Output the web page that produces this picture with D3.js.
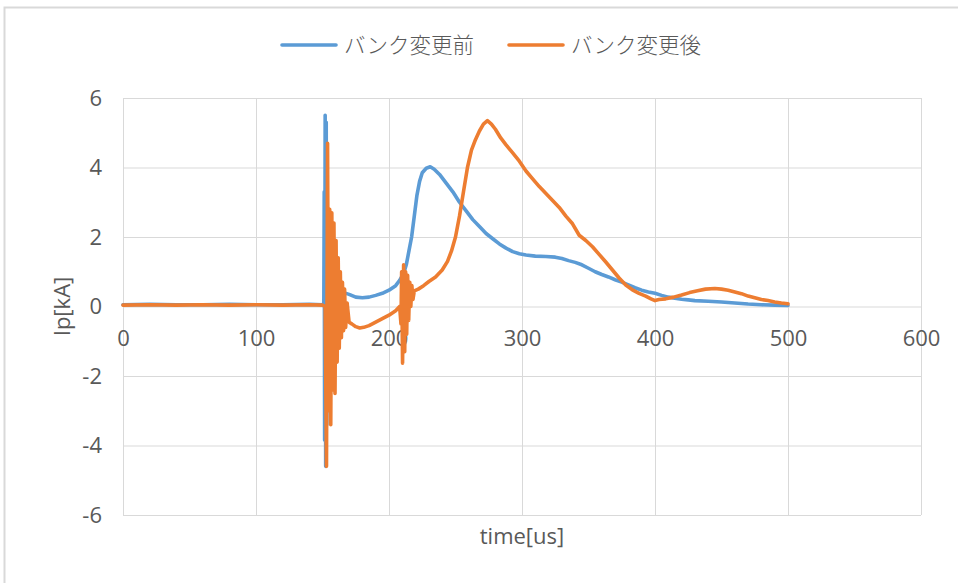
<!DOCTYPE html>
<html>
<head>
<meta charset="utf-8">
<script src="https://cdn.jsdelivr.net/npm/d3@7"></script>
<style>
  html, body { margin: 0; padding: 0; background: #fff; }
  svg { display: block; }
  text { font-family: "Open Sans", "Noto Sans CJK JP", sans-serif; fill: #595959; }
</style>
</head>
<body>
<svg id="chart" width="958" height="583"></svg>
<script>
// Peak current Ip [kA] against time [us], before and after the bank change
const seriesNames = ["バンク変更前", "バンク変更後"];
const seriesColors = ["#5B9BD5", "#ED7D31"];

const beforeTime = [0, 20, 40, 60, 80, 100, 120, 140, 150, 151, 151.3, 151.6, 152, 152.4, 152.8, 153.2, 153.6, 154, 154.5, 155, 156, 157, 158, 160, 163, 166, 170, 175, 180, 185, 190, 195, 200, 205, 208, 211, 213, 215, 217, 219, 221, 223, 225, 228, 231, 234, 238, 243, 248, 253, 258, 263, 268, 273, 278, 283, 288, 293, 298, 303, 310, 318, 325, 330, 335, 340, 345, 350, 355, 360, 365, 370, 375, 380, 385, 390, 395, 400, 405, 410, 415, 420, 425, 430, 440, 450, 460, 470, 480, 490, 500];
const beforeCurrent = [0.05, 0.06, 0.05, 0.05, 0.06, 0.05, 0.05, 0.06, 0.05, 0.1, 3.3, -3.85, 5.5, -4.6, 5.3, -3.4, 2.2, -1.2, 1.4, 0.1, 0.9, 0.3, 0.7, 0.5, 0.45, 0.4, 0.35, 0.27, 0.25, 0.27, 0.32, 0.38, 0.47, 0.6, 0.75, 0.95, 1.2, 1.6, 2.0, 2.6, 3.2, 3.6, 3.85, 3.98, 4.02, 3.95, 3.8, 3.55, 3.3, 3.0, 2.75, 2.5, 2.3, 2.1, 1.95, 1.8, 1.68, 1.58, 1.52, 1.48, 1.45, 1.44, 1.42, 1.38, 1.32, 1.27, 1.2, 1.1, 1.0, 0.92, 0.85, 0.77, 0.7, 0.62, 0.54, 0.47, 0.42, 0.38, 0.32, 0.27, 0.24, 0.21, 0.19, 0.17, 0.15, 0.13, 0.1, 0.07, 0.05, 0.04, 0.03];

const afterTime = [0, 20, 40, 60, 80, 100, 120, 140, 150, 152, 153, 153.8, 154.6, 155.4, 156.2, 157, 157.8, 158.6, 159.4, 160.2, 161, 161.8, 162.6, 163.4, 164.2, 165, 165.8, 166.6, 167.4, 168.5, 170, 172, 175, 178, 181, 185, 190, 195, 200, 205, 208, 209, 209.5, 210.2, 211, 211.8, 212.5, 213.3, 214, 214.8, 215.6, 216.4, 217.2, 218, 219, 222, 226, 230, 235, 240, 244, 247, 250, 253, 256, 259, 262, 265, 268, 271, 274, 277, 280, 284, 288, 293, 298, 303, 308, 313, 318, 323, 328, 333, 338, 343, 348, 353, 358, 363, 368, 373, 378, 383, 388, 393, 397, 400, 403, 408, 414, 420, 426, 432, 438, 445, 450, 455, 460, 465, 470, 475, 480, 485, 490, 495, 500];
const afterCurrent = [0.04, 0.05, 0.04, 0.05, 0.04, 0.05, 0.04, 0.05, 0.04, 0.0, -4.6, 4.7, -3.0, 2.8, -3.4, 2.7, -2.4, 2.4, -2.5, 1.9, -1.6, 1.4, -1.2, 1.0, -0.9, 0.7, -0.7, 0.5, -0.6, 0.1, -0.45, -0.5, -0.58, -0.62, -0.6, -0.55, -0.45, -0.35, -0.25, -0.12, 0.0, -0.5, 1.0, -1.63, 1.2, -1.3, 1.0, -0.8, 0.9, -0.4, 0.7, 0.0, 0.6, 0.2, 0.45, 0.5, 0.6, 0.72, 0.85, 1.05, 1.3, 1.6, 2.0, 2.6, 3.3, 4.0, 4.5, 4.8, 5.05, 5.25, 5.35, 5.25, 5.1, 4.85, 4.65, 4.42, 4.18, 3.9, 3.67, 3.45, 3.25, 3.05, 2.85, 2.6, 2.38, 2.05, 1.9, 1.72, 1.5, 1.28, 1.05, 0.82, 0.62, 0.48, 0.38, 0.3, 0.22, 0.17, 0.2, 0.22, 0.27, 0.33, 0.4, 0.45, 0.5, 0.52, 0.5, 0.47, 0.42, 0.37, 0.3, 0.25, 0.2, 0.17, 0.13, 0.1, 0.08];

const xTicks = [0, 100, 200, 300, 400, 500, 600];
const yTicks = [-6, -4, -2, 0, 2, 4, 6];
const xTitle = "time[us]";
const yTitle = "Ip[kA]";

const svg = d3.select("#chart");
const plot = { left: 123, right: 921, top: 98, bottom: 515 };
const labelSize = "22px";

const x = d3.scaleLinear().domain([0, 600]).range([plot.left, plot.right]);
const y = d3.scaleLinear().domain([-6, 6]).range([plot.bottom, plot.top]);
const plain = d => String(d); // hyphen-minus for negative ticks

// Outer chart frame (right and bottom edges fall outside the view)
svg.append("rect")
  .attr("x", 4.5).attr("y", 7.5)
  .attr("width", 980).attr("height", 620)
  .attr("fill", "none").attr("stroke", "#D9D9D9").attr("stroke-width", 2);

// Gridlines
const gridX = svg.append("g")
  .attr("transform", `translate(0,${plot.bottom})`)
  .call(d3.axisBottom(x).tickValues(xTicks).tickSize(-(plot.bottom - plot.top)).tickFormat(""));
const gridY = svg.append("g")
  .attr("transform", `translate(${plot.left},0)`)
  .call(d3.axisLeft(y).tickValues(yTicks).tickSize(-(plot.right - plot.left)).tickFormat(""));
[gridX, gridY].forEach(g => {
  g.select(".domain").remove();
  g.selectAll(".tick line").attr("stroke", "#D9D9D9").attr("stroke-width", 1);
});

// Tick labels: x labels sit beside the horizontal axis at zero
const xLab = svg.append("g")
  .attr("transform", `translate(0,${y(0)})`)
  .call(d3.axisBottom(x).tickValues(xTicks).tickFormat(plain).tickSize(0).tickPadding(0));
xLab.select(".domain").remove();
xLab.selectAll(".tick text")
  .attr("y", 32).attr("dy", "0.35em")
  .style("font-size", labelSize).attr("fill", "#595959");

const yLab = svg.append("g")
  .attr("transform", `translate(${plot.left},0)`)
  .call(d3.axisLeft(y).tickValues(yTicks).tickFormat(plain).tickSize(0).tickPadding(21));
yLab.select(".domain").remove();
yLab.selectAll(".tick text")
  .style("font-size", labelSize).attr("fill", "#595959");

// Axis titles
svg.append("text")
  .attr("x", 522).attr("y", 536)
  .attr("text-anchor", "middle").attr("dy", "0.35em")
  .style("font-size", labelSize).text(xTitle);
svg.append("text")
  .attr("transform", `translate(62,${y(0)}) rotate(-90)`)
  .attr("text-anchor", "middle").attr("dy", "0.35em")
  .style("font-size", labelSize).text(yTitle);

// Series lines
const line = d3.line().x(d => x(d[0])).y(d => y(d[1]));
const series = [
  d3.zip(beforeTime, beforeCurrent),
  d3.zip(afterTime, afterCurrent)
];
series.forEach((pts, i) => {
  svg.append("path")
    .datum(pts)
    .attr("fill", "none")
    .attr("stroke", seriesColors[i])
    .attr("stroke-width", 3.6)
    .attr("stroke-linejoin", "round")
    .attr("stroke-linecap", "round")
    .attr("d", line);
});

// Legend
const legendX = [282, 509];
seriesNames.forEach((name, i) => {
  const g = svg.append("g").attr("transform", `translate(${legendX[i]},45)`);
  g.append("line").attr("x1", 0).attr("x2", 54).attr("y1", 0).attr("y2", 0)
    .attr("stroke", seriesColors[i]).attr("stroke-width", 3.6).attr("stroke-linecap", "round");
  g.append("text").attr("x", 62).attr("dy", "0.35em")
    .style("font-family", "'Noto Sans CJK JP', sans-serif")
    .style("font-size", "21.5px").style("font-weight", "300").text(name);
});
</script>
</body>
</html>
